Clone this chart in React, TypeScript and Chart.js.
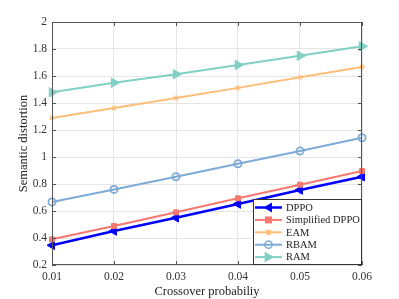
import React, { useEffect, useRef } from "react";
import { Chart, registerables } from "chart.js";

Chart.register(...registerables);

const xValues = [0.01, 0.02, 0.03, 0.04, 0.05, 0.06];
const dppo = [0.346, 0.452, 0.55, 0.652, 0.756, 0.854];
const simplifiedDppo = [0.39, 0.489, 0.59, 0.694, 0.795, 0.896];
const eam = [1.289, 1.363, 1.437, 1.512, 1.59, 1.667];
const rbam = [0.667, 0.76, 0.854, 0.95, 1.044, 1.143];
const ram = [1.479, 1.55, 1.613, 1.682, 1.75, 1.82];

const xTitle = "Crossover probabiliy";
const yTitle = "Semantic distortion";
const seriesNames = ["DPPO", "Simplified DPPO", "EAM", "RBAM", "RAM"];
const seriesColors = ["#0000ff", "#f8786f", "#ffbd7a", "#7eaad6", "#80d0c4"];
const seriesValues = [dppo, simplifiedDppo, eam, rbam, ram];
const pointStyles = ["triangle", "rect", "star", "circle", "triangle"];
const rotations = [-90, 0, 0, 0, 90];
const radii = [5, 3.5, 3, 3.6, 5.5];
const lineWidths = [2.5, 2, 2, 2, 2];

const FONT = "'Liberation Serif', 'DejaVu Serif', serif";

function drawMarker(ctx: CanvasRenderingContext2D, i: number, x: number, y: number) {
  const c = seriesColors[i];
  const r = radii[i];
  ctx.save();
  ctx.strokeStyle = c;
  ctx.fillStyle = c;
  ctx.lineWidth = 1.5;
  ctx.beginPath();
  if (i === 0) {
    ctx.moveTo(x - r, y);
    ctx.lineTo(x + r * 0.7, y - r);
    ctx.lineTo(x + r * 0.7, y + r);
    ctx.closePath();
    ctx.fill();
  } else if (i === 4) {
    ctx.moveTo(x + r, y);
    ctx.lineTo(x - r * 0.7, y - r);
    ctx.lineTo(x - r * 0.7, y + r);
    ctx.closePath();
    ctx.fill();
  } else if (i === 1) {
    ctx.rect(x - r, y - r, 2 * r, 2 * r);
    ctx.fill();
  } else if (i === 2) {
    for (let k = 0; k < 4; k++) {
      const a = (k * Math.PI) / 4;
      ctx.moveTo(x - Math.cos(a) * r, y - Math.sin(a) * r);
      ctx.lineTo(x + Math.cos(a) * r, y + Math.sin(a) * r);
    }
    ctx.stroke();
  } else {
    ctx.arc(x, y, r, 0, Math.PI * 2);
    ctx.stroke();
  }
  ctx.restore();
}

const framePlugin = {
  id: "frameAndLegend",
  afterDraw(chart: any) {
    const { ctx, chartArea } = chart;
    const { left, right, top, bottom } = chartArea;
    const xs = chart.scales.x;
    const ys = chart.scales.y;
    ctx.save();
    ctx.strokeStyle = "#555555";
    ctx.lineWidth = 1;
    ctx.strokeRect(left + 0.5, top + 0.5, right - left - 1, bottom - top - 1);
    ctx.beginPath();
    const tl = 4;
    xs.ticks.forEach((t: any) => {
      const px = Math.round(xs.getPixelForValue(t.value)) + 0.5;
      ctx.moveTo(px, bottom);
      ctx.lineTo(px, bottom - tl);
      ctx.moveTo(px, top);
      ctx.lineTo(px, top + tl);
    });
    ys.ticks.forEach((t: any) => {
      const py = Math.round(ys.getPixelForValue(t.value)) + 0.5;
      ctx.moveTo(left, py);
      ctx.lineTo(left + tl, py);
      ctx.moveTo(right, py);
      ctx.lineTo(right - tl, py);
    });
    ctx.stroke();

    // axis titles
    ctx.fillStyle = "#222222";
    ctx.font = `12.5px ${FONT}`;
    ctx.textAlign = "center";
    ctx.textBaseline = "middle";
    ctx.fillText(xTitle, (left + right) / 2, 291.5);
    ctx.save();
    ctx.translate(24, (top + bottom) / 2);
    ctx.rotate(-Math.PI / 2);
    ctx.fillText(yTitle, 0, 0);
    ctx.restore();

    // legend
    const lx0 = 253;
    const lx1 = right;
    const ly0 = 199;
    const ly1 = bottom;
    ctx.fillStyle = "#ffffff";
    ctx.fillRect(lx0, ly0, lx1 - lx0, ly1 - ly0);
    ctx.strokeStyle = "#333333";
    ctx.lineWidth = 1;
    ctx.strokeRect(lx0 + 0.5, ly0 + 0.5, lx1 - lx0 - 1, ly1 - ly0 - 1);
    ctx.font = `10.5px ${FONT}`;
    ctx.textBaseline = "middle";
    ctx.textAlign = "left";
    seriesNames.forEach((name, i) => {
      const y = 207.5 + i * 12.4;
      ctx.strokeStyle = seriesColors[i];
      ctx.lineWidth = lineWidths[i];
      ctx.beginPath();
      ctx.moveTo(255, y);
      ctx.lineTo(282, y);
      ctx.stroke();
      drawMarker(ctx, i, 268.5, y);
      ctx.fillStyle = "#222222";
      ctx.fillText(name, 286, y + 0.5);
    });
    ctx.restore();
  },
};

export default function App() {
  const ref = useRef<HTMLCanvasElement | null>(null);
  useEffect(() => {
    if (!ref.current) return;
    const datasets = seriesNames.map((name, i) => ({
      label: name,
      data: xValues.map((x, j) => ({ x, y: seriesValues[i][j] })),
      borderColor: seriesColors[i],
      backgroundColor: i === 3 ? "rgba(255,255,255,0)" : seriesColors[i],
      borderWidth: lineWidths[i],
      pointStyle: pointStyles[i] as any,
      pointRotation: rotations[i],
      pointRadius: radii[i],
      pointBorderWidth: i === 3 ? 1.8 : 1,
      pointBackgroundColor: i === 3 ? "rgba(255,255,255,0)" : seriesColors[i],
      order: 5 - i,
      clip: false as any,
    }));
    const chart = new Chart(ref.current, {
      type: "line",
      data: { datasets },
      plugins: [framePlugin],
      options: {
        animation: false,
        responsive: false,
        layout: { padding: { left: 0, right: 37, top: 22, bottom: 0 } },
        plugins: { legend: { display: false }, tooltip: { enabled: false } },
        scales: {
          x: {
            type: "linear",
            min: 0.01,
            max: 0.06,
            ticks: {
              stepSize: 0.01,
              font: { family: FONT, size: 11.5 },
              color: "#333333",
              padding: 5,
              callback: (v: any) => Number(v).toFixed(2),
            },
            grid: { color: "#e5e5e5", drawTicks: false },
            border: { display: false },
            afterFit: (s: any) => {
              s.height = 34;
            },
          },
          y: {
            min: 0.2,
            max: 2,
            ticks: {
              stepSize: 0.2,
              font: { family: FONT, size: 11.5 },
              color: "#333333",
              padding: 5,
              callback: (v: any) => String(Math.round(Number(v) * 10) / 10),
            },
            grid: { color: "#e5e5e5", drawTicks: false },
            border: { display: false },
            afterFit: (s: any) => {
              s.width = 52;
            },
          },
        },
      },
    });
    return () => chart.destroy();
  }, []);
  return (
    <div style={{ position: "absolute", left: 0, top: 0, width: 399, height: 299, background: "#fff" }}>
      <canvas ref={ref} width={399} height={299} />
    </div>
  );
}
